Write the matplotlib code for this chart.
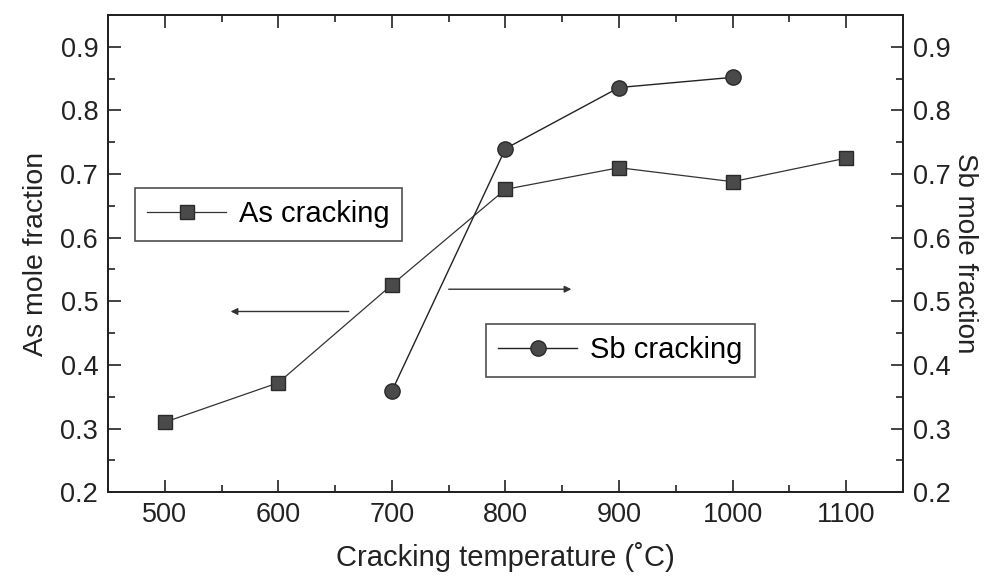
import matplotlib.pyplot as plt
from matplotlib.ticker import MultipleLocator

plt.rcParams['font.family'] = ['Liberation Sans', 'DejaVu Sans']

temp_as = [500, 600, 700, 800, 900, 1000, 1100]
as_frac = [0.31, 0.372, 0.526, 0.676, 0.710, 0.688, 0.725]

temp_sb = [700, 800, 900, 1000]
sb_frac = [0.359, 0.740, 0.836, 0.852]

fig = plt.figure(figsize=(9.86, 5.77), dpi=100)
ax = fig.add_axes([0.1095, 0.147, 0.8063, 0.827])
ax2 = ax.twinx()

ax.plot(temp_as, as_frac, color='#333333', lw=0.9, marker='s', ms=10,
        mfc='#4a4a4a', mec='#2a2a2a', label='As cracking')
ax2.plot(temp_sb, sb_frac, color='#222222', lw=1.0, marker='o', ms=11,
         mfc='#4a4a4a', mec='#2a2a2a', label='Sb cracking')

for a in (ax, ax2):
    a.set_xlim(450, 1150)
    a.set_ylim(0.2, 0.95)
    a.yaxis.set_major_locator(MultipleLocator(0.1))
    a.yaxis.set_minor_locator(MultipleLocator(0.05))

ax.xaxis.set_major_locator(MultipleLocator(100))
ax.xaxis.set_minor_locator(MultipleLocator(50))
ax.tick_params(which='both', direction='in', top=True, right=False,
               labelsize=19.5, width=1.2, colors='#222222')
ax.tick_params(which='major', length=9, pad=7)
ax.tick_params(which='minor', length=5)
ax2.tick_params(which='both', direction='in', labelsize=19.5, width=1.2,
                colors='#222222')
ax2.tick_params(which='major', length=9, pad=7)
ax2.tick_params(which='minor', length=5)
ax.yaxis.set_major_formatter(plt.FormatStrFormatter('%.1f'))
ax2.yaxis.set_major_formatter(plt.FormatStrFormatter('%.1f'))

for a in (ax, ax2):
    for s in a.spines.values():
        s.set_linewidth(1.4)
        s.set_color('#222222')

ax.set_xlabel('Cracking temperature (˚C)', fontsize=21, color='#222222', labelpad=10)
ax.set_ylabel('As mole fraction', fontsize=20.5, color='#222222', labelpad=8)
ax2.set_ylabel('Sb mole fraction', fontsize=20, color='#222222', rotation=270,
               labelpad=20)

# arrows pointing to each axis
ax.annotate('', xy=(558, 0.484), xytext=(662, 0.484),
            arrowprops=dict(arrowstyle='-|>', color='#333333', lw=1.0,
                            mutation_scale=10, shrinkA=0, shrinkB=0))
ax.annotate('', xy=(858, 0.519), xytext=(750, 0.519),
            arrowprops=dict(arrowstyle='-|>', color='#333333', lw=1.0,
                            mutation_scale=10, shrinkA=0, shrinkB=0))

leg_kw = dict(fontsize=21, frameon=True, fancybox=False, edgecolor='#222222',
              handlelength=2.7, numpoints=1, borderpad=0.42, handletextpad=0.45,
              borderaxespad=0)
l1 = ax.legend(loc='upper left', bbox_to_anchor=(0.034, 0.637), **leg_kw)
l1.get_frame().set_linewidth(1.2)
l2 = ax2.legend(loc='upper left', bbox_to_anchor=(0.4755, 0.352), **leg_kw)
l2.get_frame().set_linewidth(1.2)

fig.savefig('out.png', dpi=100)
